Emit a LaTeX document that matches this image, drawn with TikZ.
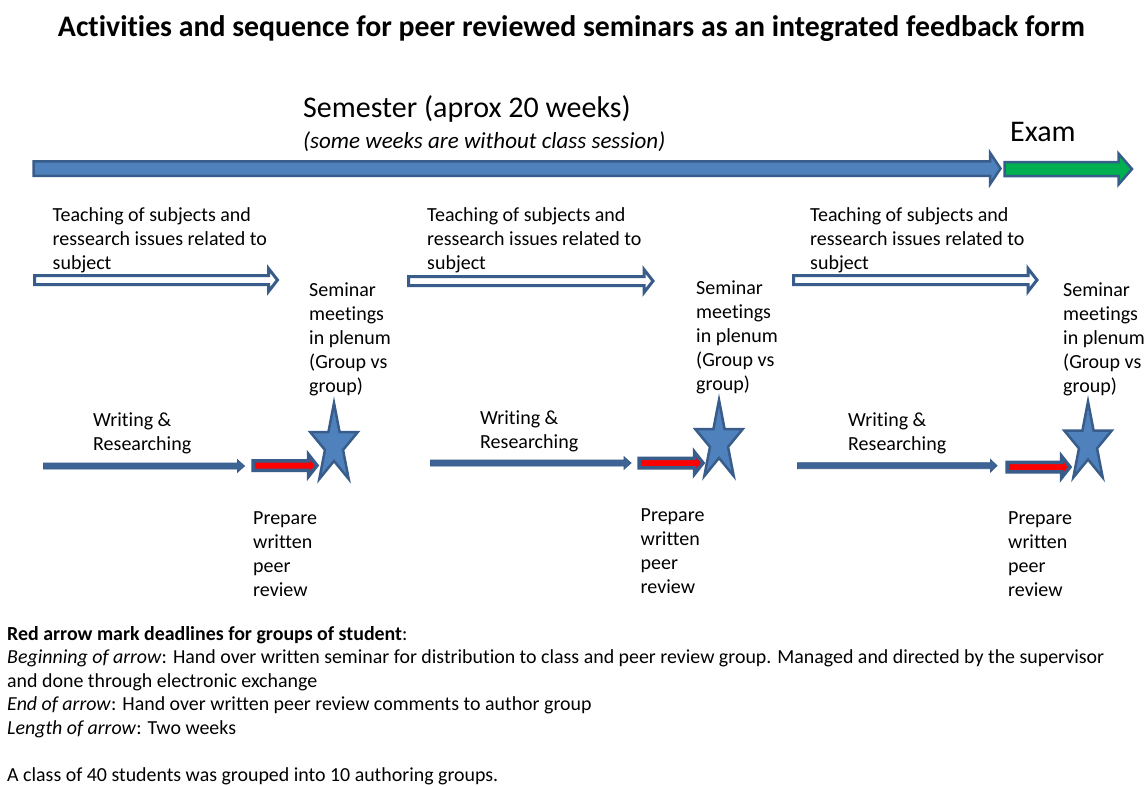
\documentclass[tikz,border=0pt]{standalone}
\usepackage{fontspec}
\setmainfont{Carlito}[Ligatures=NoCommon]

\definecolor{edge}{HTML}{385D8A}
\definecolor{body}{HTML}{4F81BD}
\definecolor{darkfill}{HTML}{3E6395}
\definecolor{examgreen}{HTML}{00B050}
\definecolor{deadline}{HTML}{FF0000}

% left-aligned stack of lines whose baseline is that of the first line
\newcommand{\stack}[1]{\begin{tabular}[t]{@{}l@{}}#1\end{tabular}}

% block arrow: [style] start x, head x, tip x, centre y, shaft height, head height
\newcommand{\blockarrow}[7][]{%
  \draw[#1] (#2,{#5-#6/2}) -- (#3,{#5-#6/2}) -- (#3,{#5-#7/2}) -- (#4,#5)
    -- (#3,{#5+#7/2}) -- (#3,{#5+#6/2}) -- (#2,{#5+#6/2}) -- cycle;}

% five-pointed star: centre x, centre y, horizontal and vertical outer radius
\newcommand{\seminarstar}[4]{%
  \draw[starshape] ({#1+#3*cos(-90)},{#2+#4*sin(-90)})
    \foreach \k in {1,...,9}{
      -- ({#1+#3*(1-0.62*mod(\k,2))*cos(-90+36*\k)},{#2+#4*(1-0.62*mod(\k,2))*sin(-90+36*\k)})
    } -- cycle;}

\tikzset{
  timeline/.style={draw=edge, fill=body, line width=2.5pt, line join=miter, miter limit=10},
  examarrow/.style={draw=edge, fill=examgreen, line width=2.5pt, line join=miter, miter limit=10},
  teacharrow/.style={draw=edge, fill=white, line width=3pt, line join=miter, miter limit=10},
  writearrow/.style={draw=edge, fill=darkfill, line width=0.8pt, line join=miter},
  deadlinearrow/.style={draw=edge, fill=deadline, line width=3.5pt, line join=miter, miter limit=10},
  starshape/.style={draw=edge, fill=body, line width=2.5pt, line join=miter, miter limit=10},
  label/.style={anchor=base west, inner sep=0pt, font=\fontsize{20}{24}\selectfont},
  legend/.style={anchor=base west, inner sep=0pt, font=\fontsize{19.9}{23.5}\selectfont}
}

\begin{document}
\begin{tikzpicture}[x=1pt, y=-1pt]
  \useasboundingbox (0,0) rectangle (1147,785);
  \fill[white] (0,0) rectangle (1147,785);

  % heading
  \node[anchor=base, inner sep=0pt, font=\fontsize{29.8}{35}\selectfont\bfseries] (title) at (571.5,36.5)
    {Activities and sequence for peer reviewed seminars as an integrated feedback form};

  % semester time line and exam
  \node[anchor=base west, inner sep=0pt, font=\fontsize{30}{36}\selectfont] (semester) at (303,117)
    {Semester (aprox 20 weeks)};
  \node[anchor=base west, inner sep=0pt, font=\fontsize{23}{28}\selectfont\itshape] (semnote) at (303,148.5)
    {(some weeks are without class session)};
  \node[anchor=base west, inner sep=0pt, font=\fontsize{30}{36}\selectfont] (exam) at (1010,141) {Exam};

  \blockarrow[timeline]{33.5}{990}{1000.5}{168.5}{14.5}{31.5}
  \blockarrow[examarrow]{1004.5}{1118.5}{1132}{169}{14}{31}

  % teaching periods
  \node[label] (teach1) at (52.5,221) {\stack{Teaching of subjects and\\ressearch issues related to\\subject}};
  \node[label] (teach2) at (427,221) {\stack{Teaching of subjects and\\ressearch issues related to\\subject}};
  \node[label] (teach3) at (810,221) {\stack{Teaching of subjects and\\ressearch issues related to\\subject}};

  \blockarrow[teacharrow]{34.5}{268.5}{277.5}{280}{9}{23}
  \blockarrow[teacharrow]{408.5}{644}{653}{281}{9}{23}
  \blockarrow[teacharrow]{793.5}{1028}{1037}{280}{9}{23}

  % seminar meetings
  \node[label] (sem1) at (309,296.5) {\stack{Seminar\\meetings\\in plenum\\(Group vs\\group)}};
  \node[label] (sem2) at (696,294.5) {\stack{Seminar\\meetings\\in plenum\\(Group vs\\group)}};
  \node[label] (sem3) at (1063,296.5) {\stack{Seminar\\meetings\\in plenum\\(Group vs\\group)}};

  % writing periods
  \node[label] (write1) at (93,426) {\stack{Writing \&\\Researching}};
  \node[label] (write2) at (480,424) {\stack{Writing \&\\Researching}};
  \node[label] (write3) at (848,426.5) {\stack{Writing \&\\Researching}};

  \blockarrow[writearrow]{43.5}{237.5}{244.5}{466}{6}{12.5}
  \blockarrow[writearrow]{430.5}{624}{631}{463}{6}{12.5}
  \blockarrow[writearrow]{797.5}{990.5}{997}{465.7}{6}{12.5}

  % peer review deadlines
  \blockarrow[deadlinearrow]{253}{308.5}{317}{465.5}{9.5}{21.5}
  \blockarrow[deadlinearrow]{639}{694.5}{703}{463}{9.5}{21.5}
  \blockarrow[deadlinearrow]{1007}{1061.5}{1070}{467}{9.5}{21.5}

  % seminar stars
  \seminarstar{334}{445}{25}{42}
  \seminarstar{719}{442}{25}{42}
  \seminarstar{1088}{443.5}{25}{42}

  \node[label] (prep1) at (253,524.5) {\stack{Prepare\\written\\peer\\review}};
  \node[label] (prep2) at (640.5,521.5) {\stack{Prepare\\written\\peer\\review}};
  \node[label] (prep3) at (1008,524.5) {\stack{Prepare\\written\\peer\\review}};

  % explanation
  \node[legend] (explain) at (7,640) {\stack{%
    \textbf{Red arrow mark deadlines for groups of student}:\\
    \textit{Beginning of arrow}: Hand over written seminar for distribution to class and peer review group. Managed and directed by the supervisor\\
    and done through electronic exchange\\
    \textit{End of arrow}: Hand over written peer review comments to author group\\
    \textit{Length of arrow}: Two weeks\\
    \\
    A class of 40 students was grouped into 10 authoring groups.}};
\end{tikzpicture}
\end{document}
